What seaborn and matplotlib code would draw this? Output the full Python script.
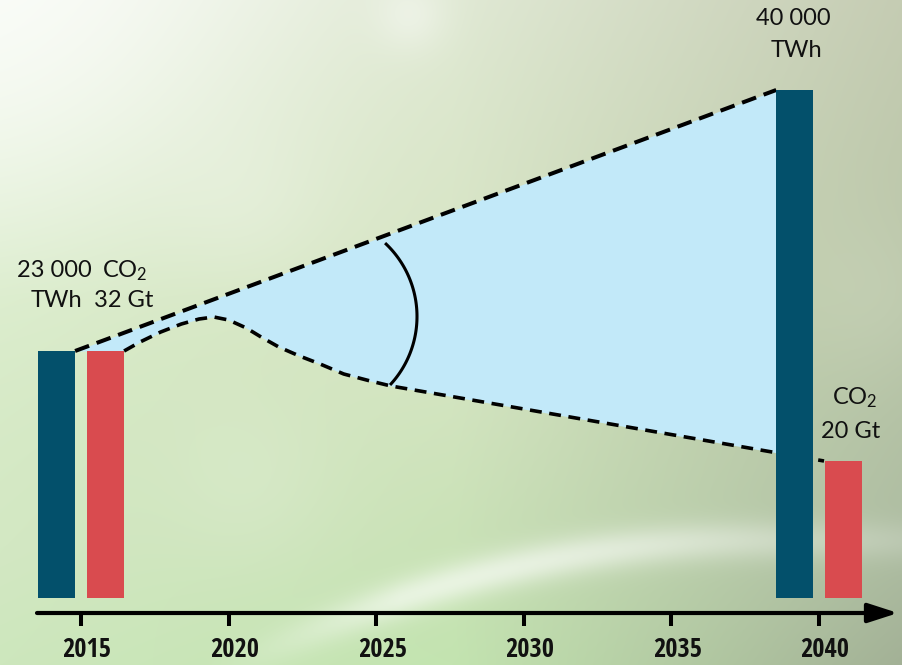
import numpy as np
import pandas as pd
import matplotlib
matplotlib.use("Agg")
import matplotlib.pyplot as plt
from matplotlib.colors import to_rgb
from matplotlib import font_manager
import seaborn as sns

# ---------------- data ----------------
bar_years = [2015, 2015, 2040, 2040]
bar_series = ["TWh", "CO2", "TWh", "CO2"]
bar_heights = [247, 247, 508, 137]          # schematic heights as drawn
tick_years = [2015, 2020, 2025, 2030, 2035, 2040]
tick_labels = ["2015", "2020", "2025", "2030", "2035", "2040"]

# upper dashed line: energy demand path (top of dark bars)
upper_years = [2014.8, 2038.55]
upper_values = [247, 508]
# lower dashed curve: CO2 emissions path
lower_years = [2016.46, 2017.0, 2017.7, 2018.4, 2019.0, 2019.5, 2020.0, 2020.6,
               2021.1, 2021.7, 2022.4, 2023.1, 2023.9, 2024.8, 2025.5, 2040.17]
lower_values = [247, 256, 266, 274, 279, 281, 278, 270,
                261, 251, 242, 234, 224, 217, 212, 137]

colors = {"TWh": "#03506b", "CO2": "#d94b4f"}

# ---------------- layout helpers (pixel -> data) ----------------
W, H = 903, 665
PX_PER_YEAR = 29.52
X0_PX, Y0_PX = 81, 598


def px_x(px):
    return 2015 + (px - X0_PX) / PX_PER_YEAR


def px_y(py):
    return Y0_PX - py


sns.set_theme(style="white")
plt.rcParams["font.family"] = ["Lato", "DejaVu Sans"]
plt.rcParams["mathtext.fontset"] = "custom"
plt.rcParams["mathtext.rm"] = "Lato"
plt.rcParams["mathtext.it"] = "Lato"

installed = {f.name for f in font_manager.fontManager.ttflist}
tick_family, tick_size = ["Lato", "DejaVu Sans"], 18
for name, size in [("Liberation Sans Narrow", 19), ("Open Sans Condensed", 19),
                   ("Roboto Condensed", 19), ("Lato Condensed", 19)]:
    if name in installed:
        tick_family, tick_size = [name, "Lato", "DejaVu Sans"], size
        break

fig = plt.figure(figsize=(W / 100, H / 100), dpi=100)
ax = fig.add_axes([0, 0, 1, 1])
xlim = (px_x(0), px_x(W))
ylim = (px_y(H), px_y(0))

# ---------------- background gradient ----------------
def grid_interp(ctrl_x, ctrl_y, ctrl):
    xs = np.linspace(0, 1, W)
    ys = np.linspace(0, 1, H)
    out = np.zeros((H, W, 3))
    rows = np.zeros((len(ctrl_y), W, 3))
    for i in range(len(ctrl_y)):
        for c in range(3):
            rows[i, :, c] = np.interp(xs, ctrl_x, [to_rgb(v)[c] for v in ctrl[i]])
    for c in range(3):
        for j in range(W):
            out[:, j, c] = np.interp(ys, ctrl_y, rows[:, j, c])
    return out

bg = grid_interp(
    [0, 0.5, 1.0], [0, 0.45, 0.82, 1.0],
    [["#f3f8ee", "#e0e9d4", "#c5ccb3"],
     ["#d8ebc8", "#d2e2bd", "#b9c6a7"],
     ["#d3e8c3", "#c9e2b6", "#aebda2"],
     ["#cde7bd", "#c3e4b0", "#a3b196"]])
yy, xx = np.mgrid[0:H, 0:W]

def glow(cx, cy, r, amt):
    g = np.exp(-(((xx - cx) ** 2 + (yy - cy) ** 2) / (2 * r ** 2)))
    return g[..., None] * amt

white = np.ones(3)
for cx, cy, r, a in [(0, 0, 170, 0.55), (410, 15, 25, 0.35), (250, 210, 60, 0.15),
                     (450, 320, 110, 0.10), (250, 480, 60, 0.12), (880, 300, 60, 0.1)]:
    m = glow(cx, cy, r, a)
    bg = bg * (1 - m) + white * m
# soft swoosh at the bottom
curve = 540 + 0.00045 * np.clip(760 - xx, 0, None) ** 2
band = np.exp(-((yy - curve) ** 2) / (2 * 14 ** 2))
fade = np.clip((xx - 200) / 200, 0, 1) * np.exp(-((xx - 480) ** 2) / (2 * 260 ** 2))
m = (band * fade * 0.6)[..., None]
bg = bg * (1 - m) + white * m
ax.imshow(bg, extent=[xlim[0], xlim[1], ylim[0], ylim[1]], aspect="auto",
          origin="upper", zorder=0)

# ---------------- fill between the two paths ----------------
fx = np.linspace(upper_years[0], 2039.2, 600)
f_up = np.interp(fx, upper_years, upper_values)
f_lo = np.interp(fx, lower_years, lower_values, left=lower_values[0])
ax.fill_between(fx, f_lo, f_up, color="#c2e9f9", lw=0, zorder=1)

# ---------------- dashed paths ----------------
ax.plot(upper_years, upper_values, color="black", lw=2.9, ls=(0, (3.7, 2.0)),
        zorder=2, solid_capstyle="butt")
ax.plot(lower_years, lower_values, color="black", lw=2.6, ls=(0, (3.3, 2.1)),
        zorder=2)

# solid arc between the paths
cxa, cya, ra = px_x(316.6), px_y(316.5), 100.4
th = np.radians(np.linspace(-43, 47, 100))
ax.plot(cxa + ra * np.cos(th) / PX_PER_YEAR, cya + ra * np.sin(th),
        color="black", lw=2.2, zorder=2, solid_capstyle="butt")

# ---------------- bars ----------------
df = pd.DataFrame({"year": bar_years, "series": bar_series, "height": bar_heights})
sns.barplot(data=df, x="year", y="height", hue="series", hue_order=["TWh", "CO2"],
            palette=colors, native_scale=True, width=0.1328, gap=0.235,
            saturation=1, errorbar=None, legend=False, ax=ax, zorder=4,
            linewidth=0)

# ---------------- x axis with arrow ----------------
ay = px_y(613)
ax.annotate("", xy=(px_x(898), ay), xytext=(px_x(37), ay),
            arrowprops=dict(arrowstyle="-|>,head_length=1.3,head_width=0.42",
                            mutation_scale=14, lw=3.0, color="black",
                            shrinkA=0, shrinkB=0), zorder=5)
for yr, lab in zip(tick_years, tick_labels):
    ax.plot([yr, yr], [ay, px_y(626)], color="black", lw=2.9, zorder=5,
            solid_capstyle="butt")
    ax.text(yr + 6 / PX_PER_YEAR, px_y(657), lab, ha="center", va="baseline",
            fontsize=tick_size, fontweight="bold", family=tick_family,
            color="#111111", zorder=6)

# ---------------- value labels ----------------
tk = dict(va="baseline", fontsize=17, color="#111111", zorder=6)
ax.text(px_x(54), px_y(277), "23 000", ha="center", **tk)
ax.text(px_x(56.5), px_y(307), "TWh", ha="center", **tk)
ax.text(px_x(102), px_y(277), r"CO$_2$", ha="left", **tk)
ax.text(px_x(123.5), px_y(307), "32 Gt", ha="center", **tk)
ax.text(px_x(793), px_y(25), "40 000", ha="center", **tk)
ax.text(px_x(796), px_y(57), "TWh", ha="center", **tk)
ax.text(px_x(832), px_y(404), r"CO$_2$", ha="left", **tk)
ax.text(px_x(851), px_y(438), "20 Gt", ha="center", **tk)

ax.set_xlim(*xlim)
ax.set_ylim(*ylim)
ax.axis("off")
fig.savefig("out.png", dpi=100)
